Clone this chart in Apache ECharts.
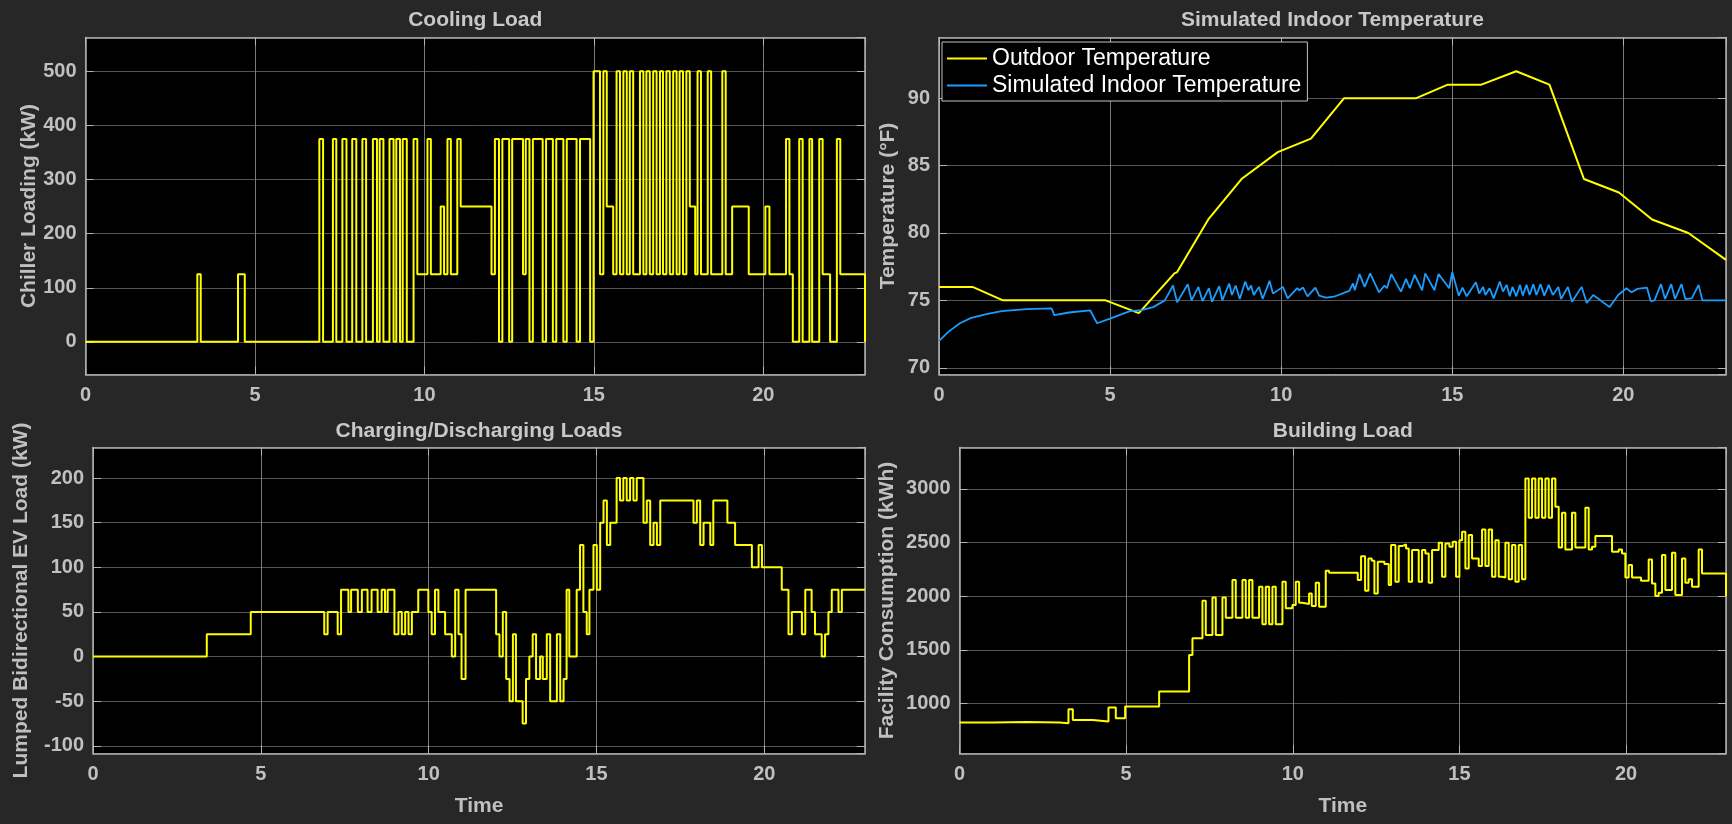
<!DOCTYPE html>
<html>
<head>
<meta charset="utf-8">
<title>Cooling, EV and Building Loads</title>
<script src="https://cdn.jsdelivr.net/npm/echarts@6/dist/echarts.min.js"></script>
<style>
  html, body { margin: 0; padding: 0; background: #272727; }
  #chart { width: 1732px; height: 824px; }
</style>
</head>
<body>
<div id="chart"></div>
<script>
// ---- Data (time in hours) ----
// Cooling load: switch times and the chiller level held from each time (kW)
const coolTime = [0, 3.30, 3.40, 4.50, 4.70,
  6.90, 7.01, 7.30, 7.40, 7.58, 7.70, 7.87, 7.99, 8.17, 8.28, 8.48, 8.60, 8.68, 8.79, 8.97, 9.09, 9.17, 9.28, 9.36, 9.48,
  9.68, 9.79, 10.09, 10.19, 10.48, 10.58, 10.68, 10.78, 10.97, 11.07,
  11.98, 12.08, 12.20, 12.30, 12.50, 12.59, 12.91, 12.99, 13.10, 13.20, 13.49, 13.59, 13.79, 13.89, 14.10, 14.20, 14.49, 14.59, 14.89,
  14.99, 15.18, 15.28, 15.38, 15.57,
  15.67, 15.77, 15.87, 15.97, 16.06, 16.16,
  16.36, 16.46, 16.55, 16.65, 16.75, 16.85, 16.95, 17.04, 17.14, 17.24, 17.34, 17.44, 17.53, 17.63, 17.73, 17.83, 17.99,
  18.06, 18.16, 18.36, 18.46, 18.79, 18.89,
  19.08, 19.57, 20.06, 20.18,
  20.67, 20.77, 20.87, 21.06, 21.16, 21.36, 21.44, 21.65, 21.75, 21.97, 22.17, 22.27, 23.0];
const coolLoad = [0, 125, 0, 125, 0,
  375, 0, 375, 0, 375, 0, 375, 0, 375, 0, 375, 0, 375, 0, 375, 0, 375, 0, 375, 0,
  375, 125, 375, 125, 250, 125, 375, 125, 375, 250,
  125, 375, 0, 375, 0, 375, 125, 375, 0, 375, 0, 375, 0, 375, 0, 375, 0, 375, 0,
  500, 125, 500, 250, 125,
  500, 125, 500, 125, 500, 125,
  500, 125, 500, 125, 500, 125, 500, 125, 500, 125, 500, 125, 500, 125, 500, 250, 125,
  500, 125, 500, 125, 500, 125,
  250, 125, 250, 125,
  375, 125, 0, 375, 0, 375, 0, 375, 125, 0, 375, 125, 0];

// Outdoor temperature (°F)
const outdoorTime = [0, 0.98, 1.87, 4.87, 5.84, 6.88, 6.96, 7.87, 8.84, 9.9, 10.87, 11.84, 13.95, 14.87, 15.85, 16.87, 17.84, 18.85, 19.87, 20.84, 21.9, 23];
const outdoorTemp = [76, 76, 75, 75, 74.05, 77.0, 77.1, 81, 84, 86, 87, 90, 90, 91, 91, 92, 91, 84, 83, 81, 80, 78];

// Simulated indoor temperature (°F)
const indoorTime = [0, 0.29, 0.61, 0.94, 1.42, 1.83, 2.56, 3.29, 3.37, 3.8, 4.42, 4.62, 5.0, 5.58, 5.92, 6.26, 6.6, 6.84,
  6.96, 7.27, 7.38, 7.58, 7.70, 7.89, 7.98, 8.19, 8.28, 8.48, 8.56, 8.67, 8.79, 8.95, 9.04, 9.12, 9.20, 9.35, 9.46, 9.66, 9.76,
  10.05, 10.19, 10.47, 10.53, 10.64, 10.77, 11.0, 11.11, 11.31, 11.54, 11.99, 12.1, 12.15, 12.29, 12.44, 12.6, 12.86,
  13.02, 13.09, 13.22, 13.5, 13.65, 13.76, 13.9, 14.12, 14.21, 14.48, 14.6, 14.91, 15.0, 15.19, 15.3, 15.42, 15.69, 15.79,
  15.9, 15.97, 16.09, 16.21, 16.39, 16.48, 16.59, 16.68, 16.76, 16.87, 16.98, 17.06, 17.17, 17.26, 17.37, 17.46, 17.58,
  17.69, 17.82, 17.94, 18.1, 18.18, 18.38, 18.5, 18.78, 18.93, 19.12, 19.6, 19.85, 20.09, 20.24, 20.41, 20.69, 20.8,
  20.91, 21.1, 21.22, 21.4, 21.51, 21.7, 21.81, 22.0, 22.2, 22.31, 23.0];
const indoorTemp = [72.0, 72.7, 73.3, 73.7, 74.0, 74.2, 74.35, 74.4, 73.9, 74.1, 74.25, 73.3, 73.65, 74.2, 74.28, 74.5, 75.0, 76.1,
  74.85, 76.2, 75.0, 76.0, 74.95, 75.9, 74.9, 76.05, 75.0, 76.25, 75.4, 76.1, 75.1, 76.4, 75.75, 76.1, 75.4, 76.0, 75.1, 76.45, 75.5,
  76.0, 75.15, 75.9, 75.75, 75.95, 75.3, 75.95, 75.35, 75.2, 75.27, 75.7, 76.25, 75.75, 76.95, 76.0, 77.0, 75.6,
  76.1, 75.9, 76.95, 75.65, 76.6, 75.9, 76.9, 75.75, 77.0, 75.75, 76.95, 75.9, 77.1, 75.35, 75.95, 75.3, 76.35, 75.5,
  76.0, 75.4, 75.9, 75.15, 76.4, 75.65, 76.15, 75.3, 76.0, 75.3, 76.15, 75.35, 76.15, 75.4, 76.2, 75.4, 76.2,
  75.35, 76.15, 75.4, 76.0, 75.1, 76.0, 74.9, 76.0, 74.8, 75.4, 74.5, 75.4, 75.9, 75.6, 75.85, 75.95, 74.95,
  75.0, 76.2, 75.1, 76.2, 75.1, 76.2, 75.1, 75.15, 76.15, 75.0, 75.0];

// Lumped bidirectional EV load: switch times and level held (kW)
const evTime = [0, 3.39, 4.70, 6.89, 6.99, 7.29, 7.39, 7.61, 7.69, 7.89, 8.01, 8.18, 8.30, 8.48, 8.60, 8.70, 8.78,
  8.98, 9.10, 9.20, 9.30, 9.40, 9.50, 9.69, 9.99, 10.09, 10.19, 10.29, 10.49, 10.69, 10.79, 10.89, 10.98, 11.10,
  12.01, 12.11, 12.21, 12.31, 12.41, 12.51, 12.60, 12.80, 12.90, 13.00, 13.10, 13.20, 13.32, 13.40, 13.52, 13.62,
  13.82, 13.92, 14.02, 14.11, 14.19, 14.41, 14.51, 14.61, 14.71, 14.79, 14.91, 15.01, 15.11, 15.21, 15.31, 15.41,
  15.60, 15.70, 15.80, 15.90, 16.00, 16.10, 16.20, 16.40, 16.50, 16.60, 16.70, 16.80, 16.90, 17.89, 17.99, 18.09,
  18.19, 18.39, 18.48, 18.90, 19.13, 19.63, 19.83, 19.93, 20.52, 20.72, 20.82, 21.12, 21.22, 21.41, 21.51, 21.71,
  21.81, 21.91, 22.01, 22.21, 22.31, 23.0];
const evLoad = [0, 25, 50, 25, 50, 25, 75, 50, 75, 50, 75, 50, 75, 50, 75, 50, 75,
  25, 50, 25, 50, 25, 50, 75, 50, 25, 75, 50, 25, 0, 75, 25, -25, 75,
  25, 0, 50, -25, -50, 25, -50, -75, -25, 0, 25, -25, 0, -25, 25, -50,
  25, -50, -25, 75, 0, 75, 125, 50, 25, 75, 125, 75, 150, 175, 125, 150,
  200, 175, 200, 175, 200, 175, 200, 150, 175, 125, 150, 125, 175, 150, 175, 125,
  150, 125, 175, 150, 125, 100, 125, 100, 75, 25, 50, 25, 75, 50, 25, 0,
  25, 50, 75, 50, 75, 75];

// Facility consumption: switch times and level held (kWh)
const bldTime = [0, 1.0, 2.0, 3.0, 3.27, 3.40, 4.0, 4.47, 4.69, 4.97, 5.99, 6.89, 6.99, 7.29, 7.39, 7.59, 7.69, 7.89,
  7.99, 8.19, 8.29, 8.49, 8.59, 8.69, 8.79, 8.99, 9.09, 9.19, 9.29, 9.39, 9.49, 9.69, 9.79, 9.99, 10.09, 10.19,
  10.29, 10.49, 10.57, 10.69, 10.79, 10.99, 11.09, 11.95, 12.05, 12.17, 12.27, 12.37, 12.45, 12.55, 12.75, 12.88,
  12.95, 13.08, 13.18, 13.28, 13.40, 13.48, 13.58, 13.78, 13.88, 13.98, 14.08, 14.18, 14.38, 14.48, 14.58, 14.70,
  14.80, 14.90, 15.00, 15.08, 15.18, 15.28, 15.38, 15.58, 15.68, 15.78, 15.88, 15.98, 16.08, 16.18, 16.28, 16.38,
  16.48, 16.58, 16.68, 16.78, 16.88, 16.98, 17.08, 17.18, 17.28, 17.38, 17.48, 17.58, 17.68, 17.78, 17.88, 17.98,
  18.08, 18.18, 18.38, 18.48, 18.78, 18.88, 18.98, 19.08, 19.58, 19.78, 19.88, 19.98, 20.08, 20.18, 20.45, 20.68,
  20.78, 20.88, 20.98, 21.08, 21.18, 21.38, 21.48, 21.68, 21.78, 21.88, 21.98, 22.18, 22.28, 23.0];
const bldLoad = [823, 829, 823, 817, 947, 848, 833, 963, 864, 972, 1112, 1453, 1608, 1958, 1639, 1989, 1639, 1989,
  1800, 2150, 1800, 2150, 1800, 2150, 1800, 2088, 1738, 2088, 1738, 2088, 1738, 2135, 1887, 1918, 2135, 1940,
  1927, 2026, 1908, 2125, 1902, 2237, 2218, 2150, 2373, 2051, 2352, 2330, 2026, 2321, 2299, 2104,
  2476, 2135, 2467, 2482, 2445, 2135, 2430, 2135, 2430, 2398, 2126, 2430, 2498, 2181, 2491, 2460,
  2507, 2181, 2522, 2600, 2259, 2569, 2352, 2281, 2622, 2281, 2622, 2181, 2522, 2181, 2175, 2498,
  2157, 2476, 2135, 2476, 2157, 3096, 2730, 3096, 2730, 3096, 2730, 3096, 2730, 3096, 2833, 2454,
  2777, 2436, 2777, 2454, 2823, 2436, 2460, 2560, 2414, 2436, 2398, 2175, 2290, 2175, 2144, 2343,
  2119, 2002, 2033, 2383, 2057, 2405, 2011, 2352, 2126, 2157, 2088, 2436, 2212, 2000];

// ---- Layout and styling ----
const FONT = '"Liberation Sans", Arial, Helvetica, sans-serif';
const TEXT = '#c0c0c0';
const BOX = '#b4b4b4';
const YELLOW = '#ffff00';
const BLUE = '#1a9dff';

const panels = [
  { grid: { left: 85.5, top: 37.5, width: 779.5, height: 337 }, yMin: -60.3, yMax: 562.5, yStep: 100, split: 6,
    title: 'Cooling Load', titleTop: 10, yName: 'Chiller Loading (kW)', yGap: 44, xName: '' },
  { grid: { left: 939, top: 37.5, width: 787, height: 337 }, yMin: 69.5, yMax: 94.5, yStep: 5, split: 5,
    title: 'Simulated Indoor Temperature', titleTop: 10, yName: 'Temperature (°F)', yGap: 40, xName: '' },
  { grid: { left: 93, top: 447.5, width: 772, height: 306 }, yMin: -108.6, yMax: 234.3, yStep: 50, split: 7,
    title: 'Charging/Discharging Loads', titleTop: 421, yName: 'Lumped Bidirectional EV Load (kW)', yGap: 61, xName: 'Time' },
  { grid: { left: 959.5, top: 447.5, width: 766.5, height: 306 }, yMin: 535, yMax: 3385, yStep: 500, split: 6,
    title: 'Building Load', titleTop: 421, yName: 'Facility Consumption (kWh)', yGap: 62, xName: 'Time' }
];

const zip = (xs, ys) => xs.map((x, i) => [x, ys[i]]);
const labelStyle = { color: TEXT, fontSize: 20, fontWeight: 'bold', fontFamily: FONT };

const grids = [], xAxes = [], yAxes = [], titles = [];
panels.forEach((p, i) => {
  grids.push(Object.assign({ show: true, backgroundColor: '#000000', borderWidth: 0, containLabel: false }, p.grid));
  titles.push({
    text: p.title, left: p.grid.left + p.grid.width / 2, top: p.titleTop, textAlign: 'center', padding: 0,
    textStyle: { color: '#c8c8c8', fontSize: 21, fontWeight: 'bold', fontFamily: FONT }
  });
  xAxes[i] = {
    type: 'value', gridIndex: i, position: 'bottom', min: 0, max: 23, interval: 5,
    name: p.xName, nameLocation: 'middle', nameGap: 42,
    nameTextStyle: { color: TEXT, fontSize: 21, fontWeight: 'bold', fontFamily: FONT },
    axisLine: { show: true, onZero: false, lineStyle: { color: BOX, width: 1.5 } },
    axisTick: { show: true, inside: true, length: 8, lineStyle: { color: BOX, width: 1 } },
    axisLabel: Object.assign({ margin: 11, showMaxLabel: false, formatter: v => (v % 5 === 0 ? String(v) : '') }, labelStyle),
    splitLine: { show: true, lineStyle: { color: '#7a7a7a', width: 1 } }
  };
  xAxes[i + 4] = {
    type: 'value', gridIndex: i, position: 'top', min: 0, max: 23, interval: 5,
    axisLine: { show: true, onZero: false, lineStyle: { color: BOX, width: 1.5 } },
    axisTick: { show: true, inside: true, length: 8, lineStyle: { color: BOX, width: 1 } },
    axisLabel: { show: false }, splitLine: { show: false }
  };
  const yScale = { min: p.yMin, max: p.yMax, splitNumber: p.split, minInterval: p.yStep, maxInterval: p.yStep };
  yAxes[i] = Object.assign({
    type: 'value', gridIndex: i, position: 'left',
    name: p.yName, nameLocation: 'middle', nameGap: p.yGap, nameRotate: 90,
    nameTextStyle: { color: TEXT, fontSize: 21, fontWeight: 'bold', fontFamily: FONT },
    axisLine: { show: true, onZero: false, lineStyle: { color: BOX, width: 1.5 } },
    axisTick: { show: true, inside: true, length: 8, lineStyle: { color: BOX, width: 1 } },
    axisLabel: Object.assign({
      margin: 9, showMinLabel: false, showMaxLabel: false,
      formatter: v => (Math.abs(v / p.yStep - Math.round(v / p.yStep)) < 1e-6 ? String(Math.round(v)) : '')
    }, labelStyle),
    splitLine: { show: true, lineStyle: { color: '#555555', width: 1 } }
  }, yScale);
  yAxes[i + 4] = Object.assign({
    type: 'value', gridIndex: i, position: 'right',
    axisLine: { show: true, onZero: false, lineStyle: { color: BOX, width: 1.5 } },
    axisTick: { show: true, inside: true, length: 8, lineStyle: { color: BOX, width: 1 } },
    axisLabel: { show: false }, splitLine: { show: false }
  }, yScale);
});

const stepLine = (name, idx, data) => ({
  name, type: 'line', xAxisIndex: idx, yAxisIndex: idx, data, step: 'end',
  symbol: 'none', lineStyle: { color: YELLOW, width: 2 }, itemStyle: { color: YELLOW }
});

const chart = echarts.init(document.getElementById('chart'), null, { renderer: 'canvas' });
chart.setOption({
  animation: false,
  backgroundColor: '#272727',
  title: titles,
  grid: grids,
  xAxis: xAxes,
  yAxis: yAxes,
  legend: {
    data: ['Outdoor Temperature', 'Simulated Indoor Temperature'],
    orient: 'vertical', left: 942, top: 42,
    icon: 'rect', itemWidth: 40, itemHeight: 2, itemGap: 4,
    padding: [5, 6, 4, 5],
    backgroundColor: '#000000', borderColor: '#c4c4c4', borderWidth: 1,
    selectedMode: false,
    textStyle: { color: '#ffffff', fontSize: 23, fontFamily: FONT }
  },
  series: [
    stepLine('Chiller Loading', 0, zip(coolTime, coolLoad)),
    {
      name: 'Outdoor Temperature', type: 'line', xAxisIndex: 1, yAxisIndex: 1,
      data: zip(outdoorTime, outdoorTemp), symbol: 'none',
      lineStyle: { color: YELLOW, width: 2 }, itemStyle: { color: YELLOW }
    },
    {
      name: 'Simulated Indoor Temperature', type: 'line', xAxisIndex: 1, yAxisIndex: 1,
      data: zip(indoorTime, indoorTemp), symbol: 'none',
      lineStyle: { color: BLUE, width: 1.8 }, itemStyle: { color: BLUE }
    },
    stepLine('EV Load', 2, zip(evTime, evLoad)),
    stepLine('Facility Consumption', 3, zip(bldTime, bldLoad))
  ]
});
</script>
</body>
</html>
